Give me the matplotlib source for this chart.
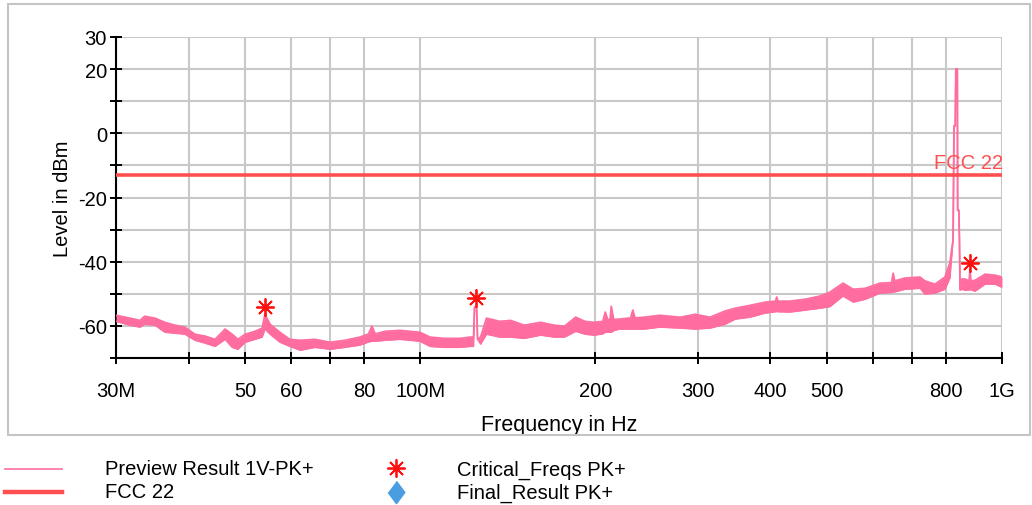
import matplotlib.pyplot as plt
from matplotlib.lines import Line2D
from matplotlib.patches import Rectangle
import numpy as np

plt.rcParams['font.family'] = ['Liberation Sans', 'DejaVu Sans']

# preview scan, MHz / dBm (upper and lower edge of the noise band)
freq_mhz = [30, 31.7, 33.0, 33.6, 35.0, 36.4, 37.9, 39.4, 41.0, 42.7, 44.4, 46.2, 47.5, 48.6,
            50.0, 52.0, 53.5, 54.1, 55.2, 57.4, 59.7, 62.2, 65.9, 70.0, 74.2, 78.8, 81.5,
            82.6, 83.7, 87.0, 92.3, 96.0, 99.9, 104, 110, 117, 122, 123.5, 124, 125, 125.5,
            127, 130, 137, 143, 151, 161, 170, 177, 185, 192, 199, 206, 208, 210, 212, 213,
            215, 220, 230, 232, 234, 243, 258, 280, 297, 315, 334, 348, 369, 392, 408, 410,
            412, 432, 459, 487, 506, 533, 555, 582, 617, 646, 650, 654, 681, 723, 737, 767,
            798, 814, 824, 827, 831, 833, 838, 839, 843, 845, 847, 853, 864, 878, 881, 884,
            899, 935, 973, 1000]
peak_dbm = [-56.7, -57.6, -58.3, -57.0, -57.6, -58.9, -59.8, -60.4, -62.6, -63.2, -64.2, -61.0,
            -62.6, -64.2, -62.6, -61.7, -60.7, -56.4, -59.5, -62.0, -64.2, -64.5, -64.2, -65.1,
            -64.5, -63.5, -62.5, -60.1, -62.5, -61.7, -61.4, -61.7, -62.0, -63.5, -63.9, -63.9,
            -63.5, -63.5, -54.2, -54.2, -64.2, -63.5, -57.6, -58.6, -58.3, -59.8, -58.9, -59.8,
            -60.1, -57.3, -58.6, -58.9, -58.6, -55.7, -58.0, -58.0, -53.9, -58.0, -57.9, -57.5,
            -55.1, -57.5, -57.3, -56.7, -57.3, -56.4, -57.3, -55.4, -54.5, -53.6, -52.6, -52.3,
            -51.0, -52.3, -52.3, -51.7, -50.7, -49.5, -46.7, -48.6, -48.3, -46.7, -46.5, -43.6,
            -46.0, -45.1, -44.8, -46.0, -47.0, -44.8, -40.2, -33.0, 2.3, 2.3, 20.0, 20.0, -24.0,
            -24.0, -33.0, -48.6, -45.4, -45.4, -46.0, -42.3, -46.0, -45.8, -43.9, -44.2, -44.8]
floor_dbm = [-58.6, -59.8, -60.4, -59.5, -59.8, -62.0, -62.3, -62.6, -64.5, -65.4, -66.4, -64.2,
             -66.7, -67.3, -65.1, -64.2, -63.5, -61.0, -62.6, -65.1, -66.4, -67.6, -66.7, -67.3,
             -66.7, -66.0, -65.0, -64.8, -64.8, -64.5, -64.2, -64.5, -64.8, -66.4, -66.7, -66.7,
             -66.4, -66.4, -54.2, -54.2, -64.2, -65.7, -62.6, -63.5, -63.5, -63.9, -62.9, -63.5,
             -63.5, -61.7, -62.6, -62.9, -62.5, -62.0, -62.0, -62.0, -62.0, -61.5, -61.0, -61.0,
             -61.0, -61.0, -61.0, -60.4, -60.7, -61.0, -60.7, -59.5, -57.9, -57.3, -56.0, -55.6,
             -55.5, -55.6, -55.7, -55.1, -54.5, -54.0, -50.7, -52.6, -51.7, -49.8, -49.6, -49.5,
             -49.4, -48.6, -48.3, -50.1, -49.8, -48.6, -45.0, -33.0, 2.3, 2.3, 20.0, 20.0, -24.0,
             -24.0, -33.0, -48.9, -48.6, -48.9, -48.8, -48.6, -48.8, -49.2, -47.0, -47.0, -48.0]

# FCC part 22 limit line
limit_mhz = [30, 1000]
limit_dbm = [-13, -13]

# critical frequencies
crit_mhz = [54.1, 124.7, 881]
crit_dbm = [-54.2, -51.3, -40.4]

x_ticks = [30, 40, 50, 60, 70, 80, 100, 200, 300, 400, 500, 600, 700, 800, 1000]
x_labels = ['30M', '', '50', '60', '', '80', '100M', '200', '300', '400', '500', '', '', '800', '1G']
y_ticks = [30, 20, 10, 0, -10, -20, -30, -40, -50, -60, -70]
y_labels = ['30', '20', '', '0', '', '-20', '', '-40', '', '-60', '']

trace_col = '#ff6c9f'
limit_col = '#ff4f50'
star_col = '#ff1010'

W, H = 1032, 506
fig = plt.figure(figsize=(W / 100, H / 100), dpi=100)
ax = fig.add_axes([116 / W, 1 - 359 / H, 886 / W, 321 / H])

f = np.array(freq_mhz) * 1e6
hi = np.array(peak_dbm)
lo = np.array(floor_dbm)
ax.fill_between(f, lo, hi, color=trace_col, lw=0, zorder=3)
ax.plot(f, hi, color=trace_col, lw=1.3, zorder=3)
ax.plot(f, lo, color=trace_col, lw=1.0, zorder=3)

ax.plot(np.array(limit_mhz) * 1e6, limit_dbm, color=limit_col, lw=2.6, zorder=4)
ax.text(1.005e9, -12.2, 'FCC 22', color=limit_col, fontsize=14.5, ha='right', va='bottom', zorder=5)

ax.plot(np.array(crit_mhz) * 1e6, crit_dbm, ls='none', marker=(8, 2, 0), ms=13, mew=1.3,
        color=star_col, zorder=6)

ax.set_xscale('log')
ax.set_xlim(30e6, 1e9)
ax.set_ylim(-70, 30)
ax.set_xticks(np.array(x_ticks) * 1e6)
ax.set_xticklabels(x_labels)
ax.minorticks_off()
ax.set_yticks(y_ticks)
ax.set_yticklabels(y_labels)
ax.tick_params(direction='inout', length=9, width=1.4, labelsize=14.5, colors='black')
ax.tick_params(axis='x', pad=12)
ax.tick_params(axis='y', pad=2)
ax.grid(True, color='#c8c8c8', lw=1.5)
ax.set_axisbelow(True)
for s in ['top', 'right']:
    ax.spines[s].set_visible(False)
for s in ['left', 'bottom']:
    ax.spines[s].set_linewidth(1.5)
ax.set_xlabel('Frequency in Hz', fontsize=15.5, labelpad=10)
ax.set_ylabel('Level in dBm', fontsize=14.5, labelpad=4)

# outer frame
fig.add_artist(Rectangle((8 / W, 1 - 436 / H), 1022 / W, 431 / H, transform=fig.transFigure,
                         fill=False, ec='#c4c4c4', lw=1.5))


# legend below the frame
def px(x, y):
    return x / W, 1 - y / H


for y, col, lw in [(470, '#ff7aa8', 1.3), (493, limit_col, 3.2)]:
    (x0, y0), (x1, _) = px(5, y), px(62, y)
    fig.add_artist(Line2D([x0, x1], [y0, y0], color=col, lw=lw, transform=fig.transFigure))
fig.add_artist(Line2D([px(396, 469)[0]], [px(396, 469)[1]], marker=(8, 2, 0), ms=13, mew=1.3,
                      color=star_col, ls='none', transform=fig.transFigure))
fig.add_artist(Line2D([px(396, 493)[0]], [px(396, 493)[1]],
                      marker=[(0, 1), (0.75, 0), (0, -1), (-0.75, 0)], ms=16,
                      color='#4a9de0', ls='none', transform=fig.transFigure))
for x, y, s in [(105, 470, 'Preview Result 1V-PK+'), (105, 493, 'FCC 22'),
                (457, 470, 'Critical_Freqs PK+'), (457, 493, 'Final_Result PK+')]:
    fig.text(*px(x, y), s, fontsize=14.5, va='center', ha='left')

fig.savefig('out.png', dpi=100)
